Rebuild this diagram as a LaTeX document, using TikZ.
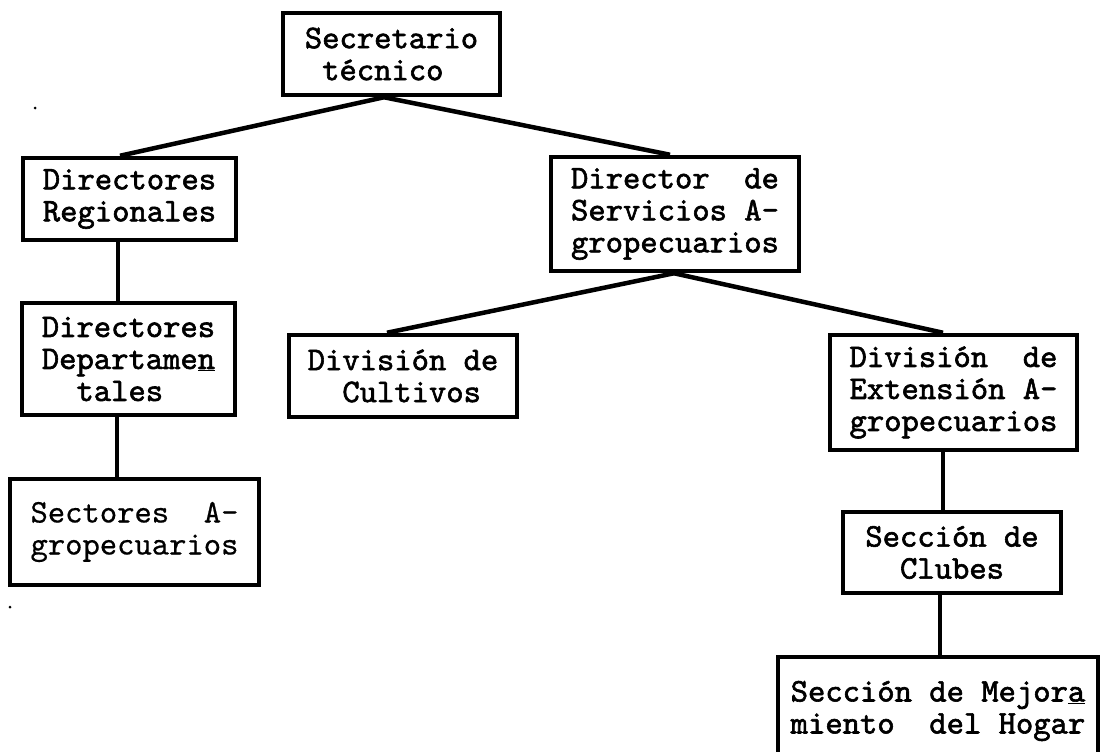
\documentclass[tikz,border=0pt]{standalone}
\usepackage{fontspec}
% typewriter faces: a heavy one for most boxes, a lighter one for the faint box
\newfontfamily\typed{lmmono10-regular.otf}[FakeBold=1.8]
\newfontfamily\typedlight{lmmono10-regular.otf}[FakeBold=0.5]
\newcommand\blank{\hphantom{x}}
\begin{document}
\begin{tikzpicture}[x=1pt,y=-1pt,
  box/.style={draw, line width=4.5pt, inner sep=0pt, align=left,
    font=\typed\fontsize{33}{32}\selectfont},
  light/.style={font=\typedlight\fontsize{33}{32}\selectfont},
  link/.style={line width=4.5pt}]
\useasboundingbox (0,0) rectangle (1100,752);
\fill[white] (0,0) rectangle (1100,752);

% boxes of the chart
\node[box, minimum width=217pt, minimum height=82pt] (sec) at (391.5,54)
  {Secretario\\\blank técnico};
\node[box, minimum width=213pt, minimum height=82pt] (reg) at (129.5,199)
  {Directores\\Regionales};
\node[box, minimum width=248pt, minimum height=114pt] (dir) at (675,214)
  {Director\blank{} de\\Servicios A-\\gropecuarios};
\node[box, minimum width=213pt, minimum height=112pt] (dep) at (128.5,359)
  {Directores\\Departame\underline{n}\\\blank\blank tales};
\node[box, minimum width=228pt, minimum height=82pt] (cul) at (403,376)
  {División de\\\blank\blank Cultivos};
\node[box, minimum width=247pt, minimum height=115pt] (ext) at (953.5,392.5)
  {División\blank{} de\\Extensión A-\\gropecuarios};
\node[box, light, minimum width=249pt, minimum height=106pt] (sect) at (134.5,532)
  {Sectores\blank{} A-\\gropecuarios};
\node[box, minimum width=218pt, minimum height=81pt] (clu) at (952,552.5)
  {Sección de\\\blank\blank Clubes};
\node[box, minimum width=320pt, minimum height=108pt] (mej) at (938,711)
  {Sección de Mejor\underline{a}\\miento\blank{} del Hogar};

% connectors
\draw[link] ([xshift=-7.5pt]sec.south) -- ([xshift=-9.5pt]reg.north);
\draw[link] ([xshift=-7.5pt]sec.south) -- ([xshift=-5pt]dir.north);
\draw[link] ([xshift=-11.5pt]reg.south) -- ([xshift=-10.5pt]dep.north);
\draw[link] ([xshift=-11.5pt]dep.south) -- ([xshift=-17.5pt]sect.north);
\draw[link] ([xshift=-1pt]dir.south) -- ([xshift=-16pt]cul.north);
\draw[link] ([xshift=-1pt]dir.south) -- ([xshift=-10.5pt]ext.north);
\draw[link] ([xshift=-10.5pt]ext.south) -- ([xshift=-9pt]clu.north);
\draw[link] ([xshift=-12pt]clu.south) -- ([xshift=2pt]mej.north);

% specks in the margin
\fill (35,108) circle (1.5pt);
\fill (10,607) circle (1.5pt);
\end{tikzpicture}
\end{document}
